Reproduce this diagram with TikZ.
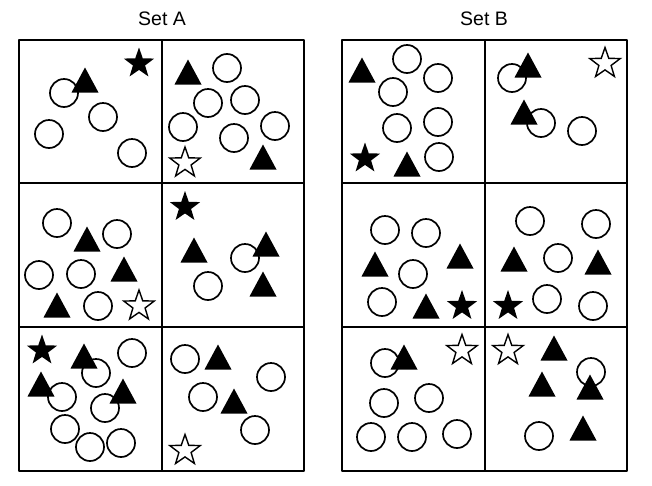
\documentclass[tikz,border=0pt]{standalone}
\usepackage{fontspec}
\setmainfont{Liberation Sans}

\tikzset{
  grid/.style={line width=2.1pt,line cap=rect},
  ring/.style={line width=1.7pt},
  tri/.style={fill=black},
  solidstar/.style={fill=black},
  openstar/.style={draw=black,fill=white,line width=1.4pt,line join=miter},
  pics/fivestar/.style={code={
    \path[pic actions] plot[samples at={0,...,9},variable=\k]
      ({(mod(\k,2)==0 ? 16 : 6.4)*cos(90+36*\k)},{-(mod(\k,2)==0 ? 16 : 6.4)*sin(90+36*\k)}) -- cycle;
  }}
}

\begin{document}
\begin{tikzpicture}[x=1pt,y=-1pt,line join=round]
  \useasboundingbox (0,0) rectangle (652,485);

  % 标题
  \node[anchor=base,font=\fontsize{19.5}{23}\selectfont] (titleA) at (162,25) {Set A};
  \node[anchor=base,font=\fontsize{19.5}{23}\selectfont] (titleB) at (484,25) {Set B};

  % 两个 2x3 方格
  \foreach \ox in {19,342} {
    \draw[grid] (\ox,40) rectangle ++(285,431);
    \draw[grid] ({\ox+143},40) -- ++(0,431);
    \draw[grid] (\ox,183) -- ++(285,0);
    \draw[grid] (\ox,327) -- ++(285,0);
  }

  % 圆圈
  \foreach \x/\y in {64/93,103/117,49/134,132/153,
    227/68,208/103,245/100,183/127,234/138,275/126,
    57/223,117/234,39/275,81/274,98/306,
    245/258,208/286,
    96/373,132/353,62/397,105/408,65/429,90/447,121/443,
    185/359,271/377,203/397,255/430,
    407/59,438/78,393/92,397/128,438/122,439/157,
    512/78,541/123,582/131,
    385/230,426/233,413/274,382/302,
    530/221,596/224,558/258,547/299,593/306,
    385/363,384/403,429/398,371/437,412/437,457/434,
    591/372,539/436}
    \draw[ring] (\x,\y) circle (14);

  % 实心三角形
  \foreach \x/\y in {85/80,188/72,263/157,87/239,124/269,57/305,
    194/250,266/244,263/284,84/356,41/384,123/391,218/357,234/401,
    362/70,407/164,528/65,524/112,375/264,460/256,426/306,
    514/259,598/262,404/357,554/348,542/384,590/387,583/428}
    \fill[tri] (\x,\y) ++(-13.5,12.5) -- ++(13.5,-25) -- ++(13.5,25) -- cycle;

  % 星形
  \foreach \x/\y in {139/63.5,185/207,42/350.5,365/158.5,462/306,508/306}
    \pic[solidstar] at (\x,\y) {fivestar};
  \foreach \x/\y in {185/163,139/306,185/450.5,605/63.5,462/350.5,508/350.5}
    \pic[openstar] at (\x,\y) {fivestar};
\end{tikzpicture}
\end{document}
